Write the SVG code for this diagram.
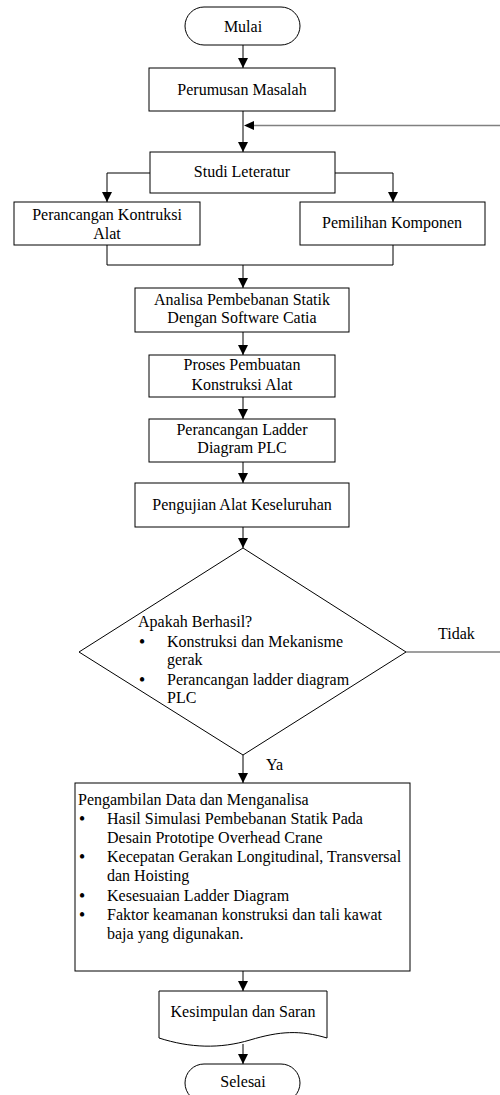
<svg xmlns="http://www.w3.org/2000/svg" width="500" height="1095" viewBox="0 0 500 1095">
<style>
.s{fill:#fff;stroke:#000;stroke-width:1}
.t{font-family:"Liberation Serif","Times New Roman",serif;font-size:16px;fill:#000}
.b{font-family:"Liberation Serif","Times New Roman",serif;font-size:16px;font-weight:bold;fill:#000;text-anchor:middle}
.c{text-anchor:middle}
.l{fill:none;stroke:#000;stroke-width:1}
.g{fill:none;stroke:#808080;stroke-width:1.6}
</style>
<defs>
<marker id="a" viewBox="0 0 10 10" refX="10" refY="5" markerWidth="10" markerHeight="10" markerUnits="userSpaceOnUse" orient="auto">
<path d="M0,0 L10,5 L0,10 Z" fill="#000"/>
</marker>
</defs>
<g id="connectors">
<path class="l" d="M243,45 V68" marker-end="url(#a)"/>
<path class="l" d="M243,111 V152" marker-end="url(#a)"/>
<path class="g" d="M406,652 H503 V125.5 H254"/>
<path d="M244,125.5 L254,121 L254,130 Z" fill="#000"/>
<path class="l" d="M150,173 H107 V202" marker-end="url(#a)"/>
<path class="l" d="M335,173 H393 V202" marker-end="url(#a)"/>
<path class="l" d="M107,245 V265 H393 V245"/>
<path class="l" d="M243,265 V288" marker-end="url(#a)"/>
<path class="l" d="M243,332 V355" marker-end="url(#a)"/>
<path class="l" d="M243,397 V419" marker-end="url(#a)"/>
<path class="l" d="M243,462 V483" marker-end="url(#a)"/>
<path class="l" d="M243,527 V548" marker-end="url(#a)"/>
<path class="l" d="M243,755 V783" marker-end="url(#a)"/>
<path class="l" d="M243,971 V991" marker-end="url(#a)"/>
<path class="l" d="M243,1044 V1064" marker-end="url(#a)"/>
<text class="t" x="438" y="639">Tidak</text>
<text class="t" x="266" y="770">Ya</text>
</g>
<g id="mulai">
<rect class="s" x="185" y="7" width="115" height="38" rx="19"/>
<text class="t c" x="243" y="32">Mulai</text>
</g>
<g id="perumusan">
<rect class="s" x="149" y="68" width="186" height="43"/>
<text class="t c" x="242" y="95">Perumusan Masalah</text>
</g>
<g id="studi">
<rect class="s" x="150" y="152" width="185" height="41"/>
<text class="t c" x="242" y="177">Studi Leteratur</text>
</g>
<g id="kontruksi">
<rect class="s" x="14" y="202" width="186" height="43"/>
<text class="t c" x="107" y="220">Perancangan Kontruksi</text>
<text class="t c" x="107" y="239">Alat</text>
</g>
<g id="komponen">
<rect class="s" x="300" y="202" width="185" height="43"/>
<text class="t c" x="392" y="228">Pemilihan Komponen</text>
</g>
<g id="analisa">
<rect class="s" x="135" y="288" width="214" height="44"/>
<text class="t c" x="242" y="305">Analisa Pembebanan Statik</text>
<text class="t c" x="242" y="323">Dengan Software Catia</text>
</g>
<g id="proses">
<rect class="s" x="149" y="355" width="186" height="42"/>
<text class="t c" x="242" y="370">Proses Pembuatan</text>
<text class="t c" x="242" y="390">Konstruksi Alat</text>
</g>
<g id="ladder">
<rect class="s" x="149" y="419" width="186" height="43"/>
<text class="t c" x="242" y="435">Perancangan Ladder</text>
<text class="t c" x="242" y="453">Diagram PLC</text>
</g>
<g id="pengujian">
<rect class="s" x="135" y="483" width="214" height="44"/>
<text class="t c" x="242" y="510">Pengujian Alat Keseluruhan</text>
</g>
<g id="keputusan">
<path class="s" d="M243,548 L406,652 L243,755 L79,652 Z"/>
<text class="t" x="138" y="627">Apakah Berhasil?</text>
<text class="b" x="142" y="647">•</text>
<text class="t" x="167" y="647">Konstruksi dan Mekanisme</text>
<text class="t" x="167" y="665">gerak</text>
<text class="b" x="142" y="685">•</text>
<text class="t" x="167" y="685">Perancangan ladder diagram</text>
<text class="t" x="167" y="703">PLC</text>
</g>
<g id="data">
<rect class="s" x="75" y="783" width="335" height="188"/>
<text class="t" x="78" y="805">Pengambilan Data dan Menganalisa</text>
<text class="b" x="82" y="824">•</text>
<text class="t" x="107" y="824">Hasil Simulasi Pembebanan Statik Pada</text>
<text class="t" x="107" y="843">Desain Prototipe Overhead Crane</text>
<text class="b" x="82" y="862">•</text>
<text class="t" x="107" y="862">Kecepatan Gerakan Longitudinal, Transversal</text>
<text class="t" x="107" y="881">dan Hoisting</text>
<text class="b" x="82" y="901">•</text>
<text class="t" x="107" y="901">Kesesuaian Ladder Diagram</text>
<text class="b" x="82" y="920">•</text>
<text class="t" x="107" y="920">Faktor keamanan konstruksi dan tali kawat</text>
<text class="t" x="107" y="939">baja yang digunakan.</text>
</g>
<g id="kesimpulan">
<path class="s" d="M159,991 H327 V1038 C300,1030 280,1031 250,1040 C220,1049 190,1048 159,1038 Z"/>
<text class="t c" x="243" y="1017">Kesimpulan dan Saran</text>
</g>
<g id="selesai">
<rect class="s" x="185" y="1064" width="115" height="38" rx="19"/>
<text class="t c" x="243" y="1087">Selesai</text>
</g>
</svg>
